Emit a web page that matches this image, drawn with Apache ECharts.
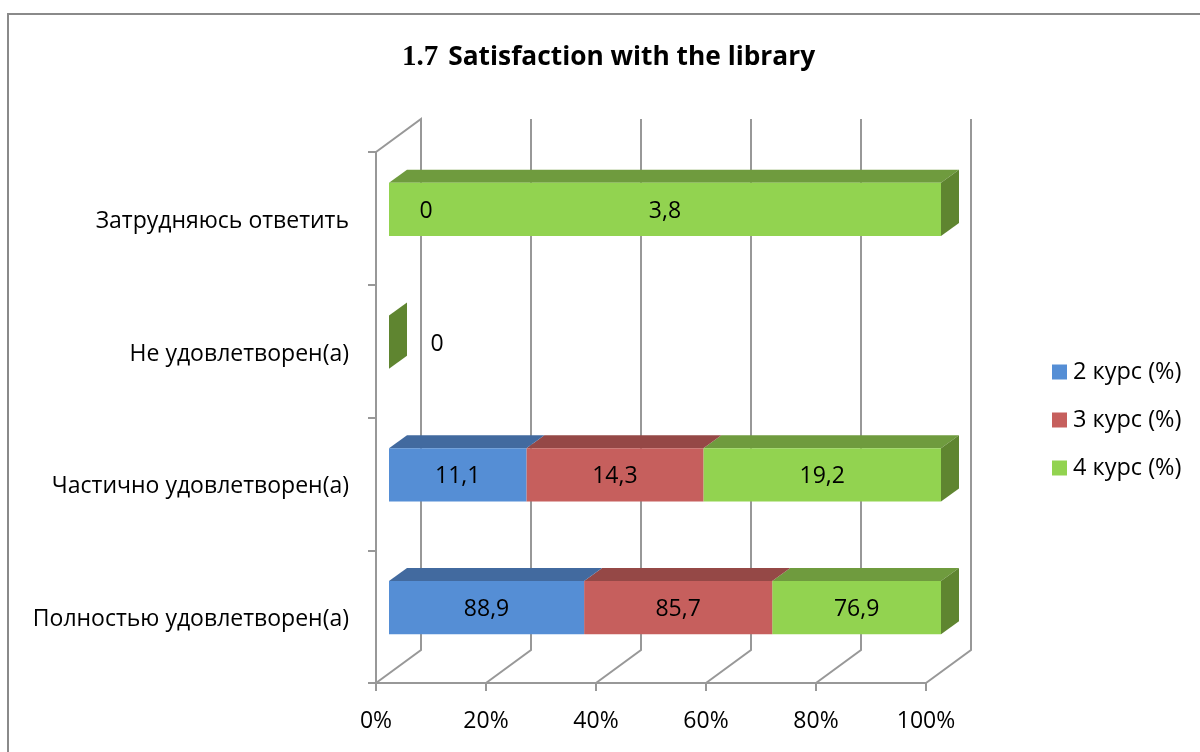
<!DOCTYPE html>
<html>
<head>
<meta charset="utf-8">
<style>
  html, body { margin: 0; padding: 0; background: #fff; }
  #chart { width: 1200px; height: 752px; }
</style>
<script src="https://cdn.jsdelivr.net/npm/echarts@6/dist/echarts.min.js"></script>
</head>
<body>
<div id="chart"></div>
<script>
const categories = ['Полностью удовлетворен(а)', 'Частично удовлетворен(а)', 'Не удовлетворен(а)', 'Затрудняюсь ответить']
const kurs2 = [88.9, 11.1, null, null]
const kurs3 = [85.7, 14.3, null, 0]
const kurs4 = [76.9, 19.2, 0, 3.8]
const xTicks = [0, 20, 40, 60, 80, 100]

const FONT = '"Open Sans", sans-serif'
const GRAY = '#989898'
// depth of the fake 3d box
const WALL_DX = 45
const WALL_DY = -33
const BAR_DX = 18
const BAR_DY = -13

// cumulative shares per row, the chart is a 100% stack
function stackRows(own, before) {
  return own.map((v, i) => {
    if (v === null) return null
    const total = [kurs2, kurs3, kurs4].reduce((s, a) => s + (a[i] || 0), 0)
    const prev = before.reduce((s, a) => s + (a[i] || 0), 0)
    return total ? [i, prev / total * 100, (prev + v) / total * 100, v] : [i, 0, 0, v]
  }).filter(Boolean)
}

function renderWall(params, api) {
  const p = api.coord([api.value(0), 0])
  const rect = params.coordSys
  const top = rect.y
  const bottom = rect.y + rect.height
  const style = { stroke: GRAY, lineWidth: 2, fill: null }
  const pts = [[p[0], bottom], [p[0] + WALL_DX, bottom + WALL_DY], [p[0] + WALL_DX, top + WALL_DY]]
  if (api.value(0) === 0) pts.push([p[0], top])
  return { type: 'polyline', shape: { points: pts }, style: style, silent: true }
}

function poly(points, fill) {
  return { type: 'polygon', shape: { points: points }, style: { fill: fill }, silent: true }
}

function barRenderer(front, topFace, sideFace) {
  return function (params, api) {
    const row = api.value(0)
    const rect = params.coordSys
    const scale = px => rect.x + 13 + (px - rect.x) * 552 / rect.width
    const band = api.size([0, 1])[1]
    const cy = api.coord([0, row])[1] - 9
    const h = band * 0.4
    const y0 = cy - h / 2
    const y1 = cy + h / 2
    const x0 = scale(api.coord([api.value(1), row])[0])
    const x1 = scale(api.coord([api.value(2), row])[0])
    const raw = api.value(3)
    const children = []
    if (x1 > x0) {
      children.push(poly([[x0, y0], [x1, y0], [x1 + BAR_DX, y0 + BAR_DY], [x0 + BAR_DX, y0 + BAR_DY]], topFace))
      children.push({
        type: 'rect',
        shape: { x: x0, y: y0, width: x1 - x0, height: h },
        style: { fill: front },
        silent: true
      })
    }
    if (sideFace) {
      children.push(poly([[x1, y0], [x1 + BAR_DX, y0 + BAR_DY], [x1 + BAR_DX, y1 + BAR_DY], [x1, y1]], sideFace))
    }
    // zero labels were moved off the bar by hand in the original
    const shift = raw === 0 ? (row === 2 ? 48 : 37) : (x1 - x0) / 2
    children.push({
      type: 'text',
      z2: 100,
      silent: true,
      style: {
        x: x0 + shift,
        y: cy + 2,
        text: String(raw).replace('.', ','),
        fill: '#000',
        font: '23px ' + FONT,
        align: 'center',
        verticalAlign: 'middle'
      }
    })
    return { type: 'group', children: children }
  }
}

function barSeries(name, data, z, front, topFace, sideFace) {
  return {
    name: name,
    type: 'custom',
    coordinateSystem: 'cartesian2d',
    clip: false,
    silent: true,
    z: z,
    itemStyle: { color: front },
    encode: { x: [1, 2], y: 0 },
    data: data,
    renderItem: barRenderer(front, topFace, sideFace)
  }
}

const chart = echarts.init(document.getElementById('chart'), null, { renderer: 'canvas' })
chart.setOption({
  animation: false,
  backgroundColor: '#fff',
  title: {
    left: 397,
    top: 38,
    text: '{a|1.7} {b|Satisfaction with the library}',
    textStyle: {
      rich: {
        a: { fontFamily: '"Liberation Serif", serif', fontWeight: 'bold', fontSize: 29, color: '#000' },
        b: { fontFamily: FONT, fontWeight: 'bold', fontSize: 26.3, color: '#000', padding: [0, 0, 0, 5] }
      }
    }
  },
  graphic: [{
    type: 'polyline',
    silent: true,
    shape: { points: [[8, 752], [8, 14], [1200, 14]] },
    style: { stroke: '#8a8a8a', lineWidth: 2, fill: null }
  }],
  legend: {
    orient: 'vertical',
    left: 1047,
    top: 355,
    icon: 'rect',
    itemWidth: 15,
    itemHeight: 15,
    itemGap: 24,
    selectedMode: false,
    data: ['2 курс (%)', '3 курс (%)', '4 курс (%)'],
    textStyle: { fontFamily: FONT, fontSize: 23.5, color: '#000', padding: [0, 0, 0, 1] }
  },
  grid: { left: 376, right: 274, top: 152, bottom: 69 },
  xAxis: {
    type: 'value',
    min: 0,
    max: 100,
    interval: 20,
    axisLine: { show: true, onZero: false, lineStyle: { color: GRAY, width: 2 } },
    axisTick: { show: true, length: 8, lineStyle: { color: GRAY, width: 2 } },
    splitLine: { show: false },
    axisLabel: {
      margin: 27,
      fontFamily: FONT,
      fontSize: 23,
      color: '#000',
      formatter: '{value}%'
    }
  },
  yAxis: {
    type: 'category',
    data: categories,
    axisLine: { show: true, lineStyle: { color: GRAY, width: 2 } },
    axisTick: { show: true, length: 8, lineStyle: { color: GRAY, width: 2 } },
    axisLabel: { margin: 27, fontFamily: FONT, fontSize: 23, color: '#000', verticalAlign: 'top', lineHeight: 6 }
  },
  series: [
    {
      type: 'custom',
      coordinateSystem: 'cartesian2d',
      clip: false,
      silent: true,
      z: 1,
      encode: { x: 0 },
      data: xTicks.map(t => [t]),
      renderItem: renderWall
    },
    barSeries('2 курс (%)', stackRows(kurs2, []), 5, '#558ED5', '#426A9F', null),
    barSeries('3 курс (%)', stackRows(kurs3, [kurs2]), 4, '#C65F5D', '#954846', null),
    barSeries('4 курс (%)', stackRows(kurs4, [kurs2, kurs3]), 3, '#92D350', '#6F9B3E', '#5F8530')
  ]
})
</script>
</body>
</html>
